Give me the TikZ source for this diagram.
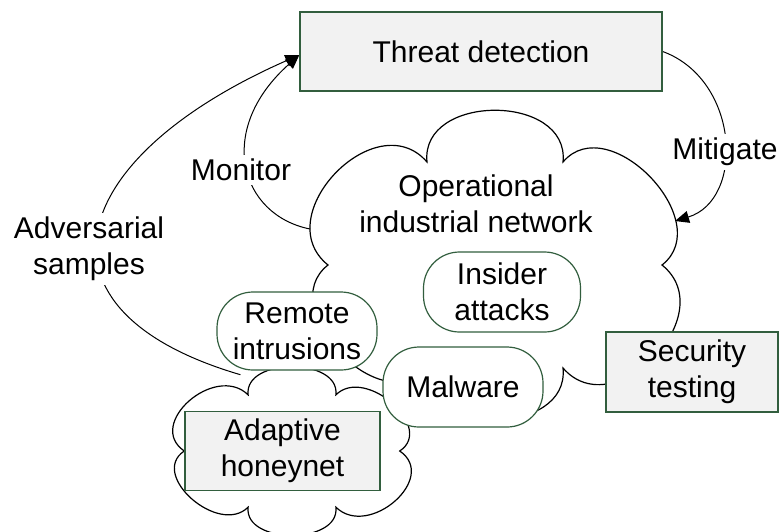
\documentclass[tikz,border=0pt]{standalone}
\usepackage{fontspec}
\setmainfont{Liberation Sans}
\usetikzlibrary{arrows.meta,backgrounds}

\definecolor{boxgreen}{RGB}{50,94,62}
\definecolor{boxfill}{RGB}{242,242,242}

\tikzset{
  cloudline/.style={draw, fill=white, line width=0.6pt},
  graybox/.style={draw=boxgreen, fill=boxfill, line width=0.7pt, inner sep=0pt, align=center},
  attack/.style={draw=boxgreen, fill=white, line width=0.6pt, rounded corners=18pt,
    minimum width=80pt, minimum height=40pt, inner sep=0pt, align=center},
  lbl/.style={fill=white, inner sep=2pt, align=center},
  link/.style={draw, line width=0.5pt, -{Triangle[length=7pt,width=6pt]}},
  % six-puff cloud outline, centred on the pic origin
  pics/puffcloud/.style={code={
    \path[cloudline] (-167,0)
      .. controls (-228,-49) and (-119,-162) .. (-68,-103)
      .. controls (-75,-172) and (75,-172) .. (68,-103)
      .. controls (113.5,-156.7) and (222.5,-43.3) .. (167,0)
      .. controls (228,49) and (119,162) .. (68,103)
      .. controls (75,172) and (-75,172) .. (-68,103)
      .. controls (-113.5,156.7) and (-222.5,43.3) .. (-167,0) -- cycle;
    \coordinate (-west) at (-185,-36);
    \coordinate (-east) at (180,-44);
    \coordinate (-nw) at (-80,-140);
  }}
}

\begin{document}
\begin{tikzpicture}[x=0.5pt, y=-0.5pt, font=\fontsize{15}{18}\selectfont]
\useasboundingbox (0,0) rectangle (780,531);

% boxes
\node[graybox, minimum width=181pt, minimum height=39.5pt] (tdet) at (481,51.5) {Threat detection};
\node[graybox, minimum width=86pt, minimum height=40pt] (sect) at (692,372) {Security\\testing};
\node[graybox, minimum width=97.5pt, minimum height=39.5pt] (honey) at (282.5,451) {Adaptive\\honeynet};

% attack kinds
\node[attack, minimum height=39pt] (remote) at (297,331) {Remote\\intrusions};
\node[attack, minimum width=78.5pt] (insider) at (502,292) {Insider\\attacks};
\node[attack] (malware) at (463,387) {Malware};

% texts
\node[align=center, inner sep=0pt] (opnet) at (476,204) {Operational\\industrial network};
\node[lbl] (mon) at (241,170) {Monitor};
\node[lbl] (mit) at (725,152) {Mitigate};
\node[lbl] (adv) at (89,249) {Adversarial\\samples};

\coordinate (tin) at ([yshift=-1.75pt]tdet.west);

\begin{pgfonlayer}{background}
  % network and honeynet clouds
  \pic (net) at (495,265) {puffcloud};
  \pic[xscale=0.645, yscale=0.545] (hp) at (292,451) {puffcloud};

  % connectors
  \path[link] (hp-nw) .. controls (20,310) and (65,158) .. (tin);
  \path[link] (net-west) .. controls (240,215) and (215,130) .. (tin);
  \path[link] (tdet.east) .. controls (740,80) and (745,200) .. (net-east);
\end{pgfonlayer}
\end{tikzpicture}
\end{document}
